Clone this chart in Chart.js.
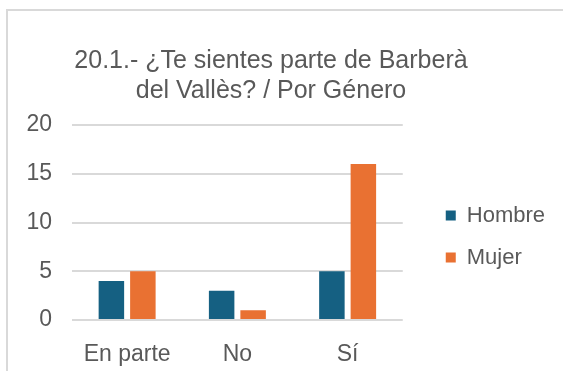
<!DOCTYPE html>
<html>
<head>
<meta charset="utf-8">
<script src="https://cdn.jsdelivr.net/npm/chart.js@4/dist/chart.umd.min.js"></script>
<style>
  html, body { margin: 0; padding: 0; background: #fff; }
  .wrapper { position: relative; width: 563px; height: 371px; overflow: hidden; }
  .frame {
    position: absolute; left: 6px; top: 9px; width: 600px; height: 400px;
    border: 2px solid #d9d9d9; box-sizing: border-box;
  }
  .box { position: absolute; left: -13px; top: 0; width: 576px; height: 371px; }
</style>
</head>
<body>
<div class="wrapper">
  <div class="frame"></div>
  <div class="box"><canvas id="genero__bar"></canvas></div>
</div>
<script>
const categories = ["En parte", "No", "Sí"];
const hombre = [4, 3, 5];
const mujer = [5, 1, 16];
const seriesNames = ["Hombre", "Mujer"];
const yTicks = [0, 5, 10, 15, 20];

const TEXT = "#595959";
const GRID = "#d9d9d9";
const FONT = "'Liberation Sans', Arial, sans-serif";

// nudge the legend down so it sits level with the middle of the plot
const legendShift = {
  id: "legendShift",
  afterLayout(chart) {
    const lg = chart.legend;
    if (!lg) return;
    lg.top += 51;
    lg.bottom += 51;
  },
};

function setGenderChart() {
  const data = {
    labels: categories,
    datasets: [
      {
        label: seriesNames[0],
        data: hombre,
        backgroundColor: "#156082",
        categoryPercentage: 0.571,
        barPercentage: 0.81,
      },
      {
        label: seriesNames[1],
        data: mujer,
        backgroundColor: "#E97132",
        categoryPercentage: 0.571,
        barPercentage: 0.81,
      },
    ],
  };

  const config = {
    type: "bar",
    data: data,
    plugins: [legendShift],
    options: {
      responsive: true,
      maintainAspectRatio: false,
      animation: false,
      layout: { padding: { left: 0, right: 8, top: 0, bottom: 0 } },
      plugins: {
        title: {
          display: true,
          text: ["20.1.- ¿Te sientes parte de Barberà", "del Vallès? / Por Género"],
          color: TEXT,
          font: { family: FONT, size: 25, weight: "normal", lineHeight: 1.2 },
          padding: { top: 46, bottom: 19 },
        },
        legend: {
          position: "right",
          maxWidth: 220,
          labels: {
            color: TEXT,
            font: { family: FONT, size: 22 },
            boxWidth: 10,
            boxHeight: 10,
            padding: 20,
          },
        },
        tooltip: { enabled: false },
      },
      scales: {
        x: {
          grid: { display: false },
          border: { display: false },
          ticks: {
            color: TEXT,
            font: { family: FONT, size: 23 },
            padding: 13,
          },
          afterFit(scale) {
            scale.height = 51;
          },
        },
        y: {
          min: 0,
          max: 20,
          afterBuildTicks(scale) {
            scale.ticks = yTicks.map((v) => ({ value: v }));
          },
          grid: { color: GRID, lineWidth: 2, drawTicks: false },
          border: { display: false },
          ticks: {
            color: TEXT,
            font: { family: FONT, size: 23 },
            padding: 20,
          },
          afterFit(scale) {
            scale.width = 85;
          },
        },
        gap: {
          position: "right",
          display: true,
          grid: { display: false },
          border: { display: false },
          ticks: { display: false },
          afterFit(scale) {
            scale.width = 23;
          },
        },
      },
    },
  };

  new Chart(document.querySelector("#genero__bar"), config);
}

setGenderChart();
</script>
</body>
</html>
